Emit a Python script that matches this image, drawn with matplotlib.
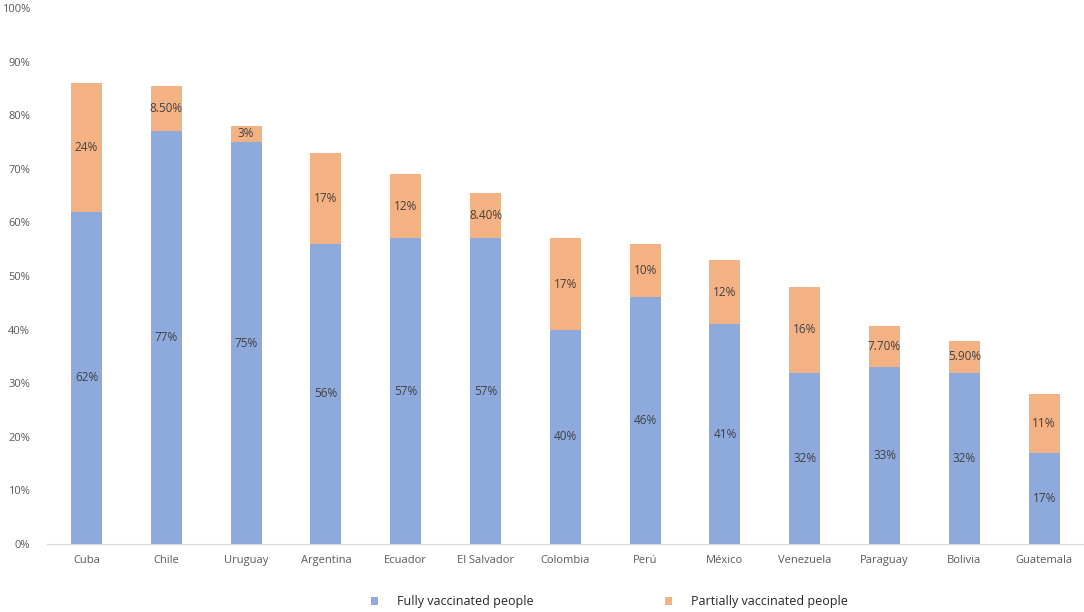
import matplotlib.pyplot as plt
import numpy as np

countries = ['Cuba', 'Chile', 'Uruguay', 'Argentina', 'Ecuador', 'El Salvador', 'Colombia',
             'Perú', 'México', 'Venezuela', 'Paraguay', 'Bolivia', 'Guatemala']
fully = [62, 77, 75, 56, 57, 57, 40, 46, 41, 32, 33, 32, 17]
partial = [24, 8.5, 3, 17, 12, 8.4, 17, 10, 12, 16, 7.7, 5.9, 11]
fully_labels = ['62%', '77%', '75%', '56%', '57%', '57%', '40%', '46%', '41%', '32%', '33%', '32%', '17%']
partial_labels = ['24%', '8.50%', '3%', '17%', '12%', '8.40%', '17%', '10%', '12%', '16%', '7.70%', '5.90%', '11%']

blue = '#8EA9DB'
orange = '#F4B183'
gray = '#595959'

plt.rcParams['font.family'] = ['Open Sans', 'DejaVu Sans']

fig = plt.figure(figsize=(10.84, 6.12), dpi=100)
ax = fig.add_axes([0.043, 0.111, 0.957, 0.876])

x = np.arange(len(countries))
w = 0.39
b1 = ax.bar(x, fully, w, color=blue, label='Fully vaccinated people')
b2 = ax.bar(x, partial, w, bottom=fully, color=orange, label='Partially vaccinated people')

ax.bar_label(b1, labels=fully_labels, label_type='center', fontsize=8.5, color='#404040')
ax.bar_label(b2, labels=partial_labels, label_type='center', fontsize=8.5, color='#404040')

ax.set_xlim(-0.5, len(countries) - 0.5)
ax.set_ylim(0, 100)
ax.set_yticks(range(0, 101, 10))
ax.set_yticklabels([f'{v}%' for v in range(0, 101, 10)])
ax.set_xticks(x)
ax.set_xticklabels(countries)
ax.tick_params(axis='both', length=0, labelsize=8, labelcolor=gray)
ax.tick_params(axis='x', pad=8)
ax.tick_params(axis='y', pad=12)

for s in ['top', 'right', 'left']:
    ax.spines[s].set_visible(False)
ax.spines['bottom'].set_color('#D9D9D9')

fig.legend(handles=[b1, b2], loc='lower center', bbox_to_anchor=(0.562, -0.012), ncol=2,
           frameon=False, fontsize=9, handlelength=0.6, handleheight=0.6,
           columnspacing=10.5, handletextpad=1.5, labelcolor='#262626')

fig.savefig('out.png', dpi=100)
